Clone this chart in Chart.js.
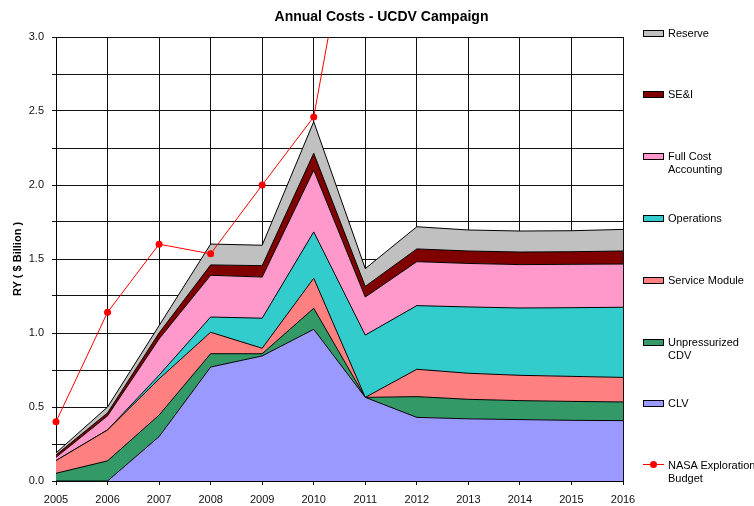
<!DOCTYPE html>
<html>
<head>
<meta charset="utf-8">
<script src="https://cdn.jsdelivr.net/npm/chart.js@4.4.1/dist/chart.umd.min.js"></script>
<style>
  html, body { margin: 0; padding: 0; background: #fff; }
  #wrap { position: relative; width: 754px; height: 506px; font-family: "Liberation Sans", Arial, sans-serif; }
  #title { position: absolute; left: 0; top: 8px; width: 763px; text-align: center; font-weight: bold; font-size: 14px; color: #000; }
  .lg { position: absolute; left: 643px; font-size: 11px; line-height: 13px; color: #000; }
  .lg .box { position: absolute; left: 0; top: 3px; width: 19px; height: 5px; border: 1px solid #000; }
  .lg .ln { position: absolute; left: 0; top: 5px; width: 21px; height: 1px; background: #ff0000; }
  .lg .dot { position: absolute; left: 7px; top: 2px; width: 7px; height: 7px; border-radius: 50%; background: #ff0000; }
  .lg .txt { position: absolute; left: 25px; top: 0; white-space: nowrap; }
</style>
</head>
<body>
<div id="wrap">
  <canvas id="c" width="754" height="506"></canvas>
  <div id="title">Annual Costs - UCDV Campaign</div>
  <div id="legend"></div>
</div>
<script>
const years = ['2005','2006','2007','2008','2009','2010','2011','2012','2013','2014','2015','2016'];
const clv          = [0, 0, 0.30, 0.77, 0.845, 1.025, 0.565, 0.43, 0.42, 0.415, 0.41, 0.408];
const ucdv         = [0.052, 0.136, 0.145, 0.09, 0.015, 0.142, 0, 0.14, 0.132, 0.128, 0.128, 0.126];
const serviceMod   = [0.086, 0.209, 0.245, 0.145, 0.037, 0.203, 0, 0.185, 0.176, 0.171, 0.169, 0.166];
const operations   = [0, 0, 0.025, 0.103, 0.203, 0.313, 0.421, 0.43, 0.448, 0.455, 0.464, 0.474];
const fullCost     = [0.022, 0.095, 0.245, 0.282, 0.278, 0.417, 0.257, 0.297, 0.294, 0.293, 0.293, 0.292];
const sei          = [0.016, 0.02, 0.04, 0.07, 0.077, 0.114, 0.072, 0.086, 0.084, 0.085, 0.085, 0.088];
const reserve      = [0.014, 0.04, 0.05, 0.141, 0.138, 0.214, 0.12, 0.15, 0.142, 0.142, 0.142, 0.146];
const budget       = [0.40, 1.14, 1.60, 1.535, 2.0, 2.46, 4.37, null, null, null, null, null];
const yTicks = { min: 0, max: 3.0, step: 0.25, labelStep: 0.5 };

const areaSeries = [
  { label: 'CLV', data: clv, color: '#9999FF' },
  { label: 'Unpressurized CDV', data: ucdv, color: '#339966' },
  { label: 'Service Module', data: serviceMod, color: '#FF8080' },
  { label: 'Operations', data: operations, color: '#33CCCC' },
  { label: 'Full Cost Accounting', data: fullCost, color: '#FF99CC' },
  { label: 'SE&I', data: sei, color: '#800000' },
  { label: 'Reserve', data: reserve, color: '#C0C0C0' }
];

const FONT = '"Liberation Sans", Arial, sans-serif';

const datasets = [{
  label: 'NASA Exploration Budget',
  data: budget,
  stack: 'budget',
  borderColor: '#FF0000',
  backgroundColor: '#FF0000',
  borderWidth: 1,
  pointRadius: 3.5,
  pointBorderWidth: 0,
  pointBackgroundColor: '#FF0000',
  fill: false,
  tension: 0,
  order: 0
}];
areaSeries.forEach((s, i) => {
  datasets.push({
    label: s.label,
    data: s.data,
    stack: 'costs',
    borderColor: '#000',
    borderWidth: 1,
    backgroundColor: s.color,
    pointRadius: 0,
    fill: i === 0 ? 'origin' : '-1',
    tension: 0,
    order: 1
  });
});

new Chart(document.getElementById('c'), {
  type: 'line',
  data: { labels: years, datasets },
  options: {
    responsive: false,
    animation: false,
    devicePixelRatio: 1,
    layout: { padding: { left: 0, top: 37, right: 131, bottom: 0 } },
    plugins: { legend: { display: false }, title: { display: false }, tooltip: { enabled: false } },
    elements: { line: { tension: 0 } },
    scales: {
      x: {
        stacked: false,
        offset: false,
        grid: { color: '#111', lineWidth: 1, tickLength: 4, offset: false },
        border: { color: '#000', width: 1 },
        ticks: { color: '#111', font: { family: FONT, size: 11 }, padding: 8, maxRotation: 0, autoSkip: false },
        afterFit: (s) => { s.height = 25; }
      },
      y: {
        stacked: true,
        min: yTicks.min,
        max: yTicks.max,
        grid: { color: '#111', lineWidth: 1, tickLength: 4 },
        border: { color: '#000', width: 1 },
        ticks: {
          stepSize: yTicks.step,
          color: '#111',
          font: { family: FONT, size: 11 },
          padding: 8,
          callback: (v) => {
            const r = v / yTicks.labelStep;
            return Math.abs(r - Math.round(r)) < 1e-6 ? Number(v).toFixed(1) : '';
          }
        },
        title: { display: true, text: 'RY ( $ Billion )', color: '#000', font: { family: FONT, size: 11, weight: 'bold' }, padding: { top: 11, bottom: 0 } },
        afterFit: (s) => { s.width = 56; }
      }
    }
  }
});

// HTML legend
const legendItems = areaSeries.slice().reverse().map(s => ({ text: s.label, color: s.color, type: 'box' }));
legendItems.push({ text: 'NASA Exploration Budget', color: '#FF0000', type: 'line' });
const legendLines = { 'Full Cost Accounting': 'Full Cost<br>Accounting', 'Unpressurized CDV': 'Unpressurized<br>CDV', 'NASA Exploration Budget': 'NASA Exploration<br>Budget', 'SE&I': 'SE&amp;I' };
const legendTops = [27, 88, 150, 212, 274, 336, 397, 459];
const lg = document.getElementById('legend');
legendItems.forEach((it, i) => {
  const d = document.createElement('div');
  d.className = 'lg';
  d.style.top = legendTops[i] + 'px';
  const mark = it.type === 'box'
    ? '<div class="box" style="background:' + it.color + '"></div>'
    : '<div class="ln"></div><div class="dot"></div>';
  d.innerHTML = mark + '<div class="txt">' + (legendLines[it.text] || it.text) + '</div>';
  lg.appendChild(d);
});
</script>
</body>
</html>
